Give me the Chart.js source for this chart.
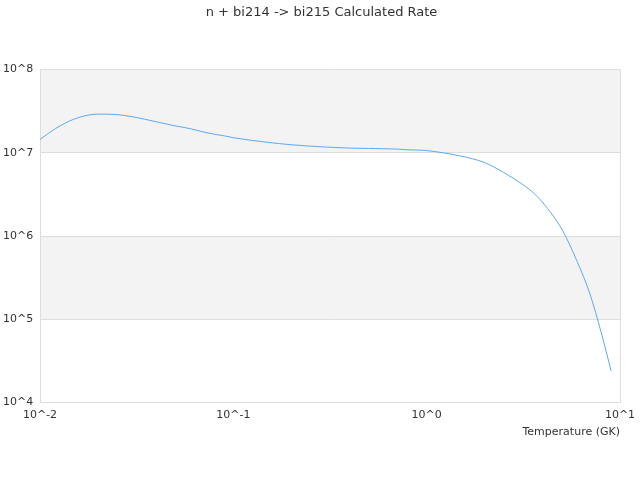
<!DOCTYPE html>
<html>
<head>
<meta charset="utf-8">
<script src="https://cdn.jsdelivr.net/npm/chart.js@4/dist/chart.umd.min.js"></script>
<style>
  body { margin: 0; background: #fff; }
</style>
</head>
<body>
<canvas id="rateChart" width="640" height="480"></canvas>
<script>
// temperature grid (GK) and calculated rate
const temps = [0.01, 0.012, 0.015, 0.02, 0.025, 0.03, 0.04, 0.05, 0.06, 0.07, 0.08, 0.09, 0.1,
  0.15, 0.2, 0.3, 0.4, 0.5, 0.6, 0.7, 0.8, 0.9, 1, 1.5, 2, 2.5, 3, 3.5, 4, 5, 6, 7, 8, 9];
const rates = [1.45e7, 1.95e7, 2.54e7, 2.92e7, 2.88e7, 2.72e7, 2.36e7, 2.11e7, 1.95e7, 1.78e7, 1.67e7, 1.60e7, 1.52e7,
  1.34e7, 1.25e7, 1.175e7, 1.14e7, 1.13e7, 1.12e7, 1.11e7, 1.087e7, 1.08e7, 1.064e7, 9.16e6, 7.62e6, 5.82e6,
  4.47e6, 3.44e6, 2.50e6, 1.21e6, 4.97e5, 2.0e5, 6.9e4, 2.4e4];
const xTicks = [0.01, 0.1, 1, 10];
const yTicks = [1e4, 1e5, 1e6, 1e7, 1e8];
const shadedBands = [[1e7, 1e8], [1e5, 1e6]];

const powLabel = v => "10^" + Math.round(Math.log10(v));

// grey stripes behind every other decade
const bandPlugin = {
  id: "bands",
  beforeDraw(chart) {
    const { ctx, chartArea, scales } = chart;
    ctx.save();
    ctx.fillStyle = "#f3f3f3";
    shadedBands.forEach(([lo, hi]) => {
      const top = scales.y.getPixelForValue(hi);
      const bot = scales.y.getPixelForValue(lo);
      ctx.fillRect(chartArea.left, top, chartArea.right - chartArea.left, bot - top);
    });
    ctx.restore();
  }
};

Chart.defaults.font.family = "'DejaVu Sans', sans-serif";
Chart.defaults.color = "#333";

new Chart(document.getElementById("rateChart"), {
  type: "line",
  data: {
    datasets: [{
      data: temps.map((t, i) => ({ x: t, y: rates[i] })),
      borderColor: "#5ea8f2",
      borderWidth: 1,
      pointRadius: 0,
      fill: false,
      cubicInterpolationMode: "monotone"
    }]
  },
  options: {
    responsive: false,
    animation: false,
    layout: { padding: { left: 3, right: 0, bottom: 41 } },
    plugins: {
      legend: { display: false },
      tooltip: { enabled: false },
      title: {
        display: true,
        text: "n + bi214 -> bi215 Calculated Rate",
        font: { size: 13, weight: "normal" },
        color: "#333",
        padding: { top: 5, bottom: 49 }
      }
    },
    scales: {
      x: {
        type: "logarithmic",
        min: 0.01,
        max: 10,
        afterBuildTicks: s => { s.ticks = xTicks.map(v => ({ value: v })); },
        afterFit: s => { s.paddingRight = 20; },
        ticks: { callback: v => powLabel(v), font: { size: 11 }, color: "#333", maxRotation: 0, padding: 6 },
        grid: {
          drawTicks: false,
          color: c => (c.index === xTicks.length - 1 ? "#dddddd" : "rgba(0,0,0,0)")
        },
        border: { color: "#dddddd" },
        title: {
          display: true,
          text: "Temperature (GK)",
          align: "end",
          font: { size: 11 },
          color: "#333",
          padding: { top: -2, bottom: 0 }
        }
      },
      y: {
        type: "logarithmic",
        min: 1e4,
        max: 1e8,
        afterBuildTicks: s => { s.ticks = yTicks.map(v => ({ value: v })); },
        afterFit: s => { s.width = 37; },
        ticks: { callback: v => powLabel(v), font: { size: 11 }, color: "#333", crossAlign: "far", padding: 6 },
        grid: { drawTicks: false, color: "#dddddd" },
        border: { color: "#dddddd" }
      }
    }
  },
  plugins: [bandPlugin]
});
</script>
</body>
</html>
